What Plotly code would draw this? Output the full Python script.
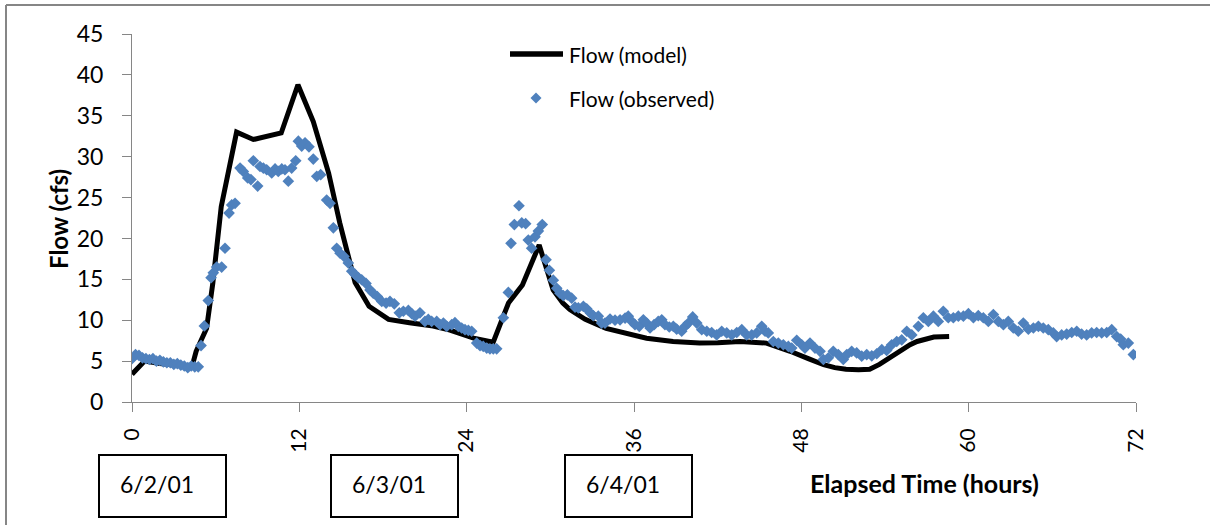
import plotly.graph_objects as go

# Simulated flow (model), hours since start
model_hours = [0, 0.9, 2.0, 3.0, 4.3, 4.6, 5.35, 5.8, 6.4, 7.5, 8.7, 10.7, 11.9, 13.0,
               14.1, 14.9, 15.4, 16.0, 17.0, 18.4, 19.9, 21.6, 22.8, 24.5, 25.9, 27.0,
               28.0, 29.2, 30.2, 30.9, 31.4, 32.5, 34.0, 35.5, 36.9, 38.8, 40.7, 42.0,
               43.6, 45.5, 46.3, 47.2, 48.5, 49.6, 50.4, 51.2, 52.1, 52.9, 53.6, 54.3,
               55.1, 55.8, 56.3, 57.0, 57.5, 58.6]
model_flow = [3.4, 5.0, 4.7, 4.5, 4.3, 6.2, 9.0, 14.6, 23.9, 33.0, 32.1, 32.9, 38.8, 34.3,
              28.0, 21.9, 18.6, 14.6, 11.7, 10.1, 9.7, 9.3, 8.8, 7.8, 7.3, 12.1,
              14.3, 19.2, 13.7, 12.1, 11.3, 10.1, 9.0, 8.3, 7.8, 7.4, 7.2, 7.25,
              7.4, 7.2, 6.8, 6.2, 5.3, 4.56, 4.2, 4.0, 3.95, 4.0, 4.6, 5.4,
              6.2, 7.0, 7.4, 7.8, 7.95, 8.0]

# Gauged flow (observed)
obs_hours = [0, 0.25, 0.5, 0.75, 1.0, 1.25, 1.5, 1.75, 2.0, 2.25, 2.5, 2.75, 3.0, 3.25,
             3.5, 3.75, 4.0, 4.25, 4.5, 4.75,
             4.95, 5.19, 5.47, 5.67, 5.83, 6.07, 6.43, 6.67, 6.96, 7.15, 7.39, 7.75,
             7.98, 8.30, 8.53, 8.70, 9.01, 9.18, 9.42, 9.66, 10.02, 10.26, 10.49, 10.74,
             10.97, 11.21, 11.45, 11.74, 11.93, 12.17, 12.41, 12.69, 13.0, 13.25, 13.53,
             13.96, 14.2, 14.44, 14.68, 14.92, 15.2, 15.51, 15.76, 15.99, 16.23, 16.47,
             16.78, 17.07, 17.3, 17.59, 17.91, 18.22, 18.5, 18.81, 19.17, 19.46, 19.82,
             20.06, 20.3, 20.65, 21.01, 21.25, 21.49, 21.85, 22.09, 22.33, 22.57, 22.93,
             23.16, 23.4, 23.64, 23.88, 24.12, 24.36, 24.72, 24.96, 25.19, 25.44, 25.67,
             25.91, 26.15, 26.63, 26.99, 27.18, 27.42, 27.75, 27.95, 28.23, 28.42, 28.66,
             28.9, 29.14, 29.42, 29.69, 29.93, 30.21, 30.46, 30.69, 30.93, 31.22, 31.53,
             31.77, 32.01, 32.37, 32.61, 32.85, 33.08, 33.44, 33.68, 33.92, 34.28, 34.64,
             35.0, 35.36, 35.59, 35.84, 36.07, 36.38, 36.67, 36.91, 37.15, 37.44, 37.74,
             37.99, 38.22, 38.53, 38.82, 39.06, 39.42, 39.66, 39.9, 40.21, 40.5, 40.86,
             41.22, 41.57, 41.93, 42.29, 42.65, 43.01, 43.37, 43.73, 44.08, 44.44, 44.8,
             45.16, 45.4, 45.63, 45.99, 46.35, 46.71, 47.07, 47.31, 47.67, 48.03, 48.26,
             48.62, 48.98, 49.34, 49.58, 49.94, 50.29, 50.65, 51.01, 51.26, 51.61, 51.97,
             52.33, 52.69, 53.05, 53.41, 53.77, 54.12, 54.48, 54.84, 55.2, 55.56, 55.92,
             56.39, 56.75, 57.11, 57.47, 57.82, 58.18, 58.54, 58.9, 59.26, 59.62, 59.98,
             60.34, 60.69, 61.05, 61.41, 61.77, 62.13, 62.49, 62.84, 63.2, 63.56, 63.92,
             64.28, 64.64, 65.0, 65.35, 65.71, 66.07, 66.31, 66.67, 67.03, 67.39, 67.75,
             68.1, 68.46, 68.82, 69.18, 69.54, 69.9, 70.26, 70.62, 70.9, 71.09, 71.45,
             71.81]
obs_flow = [5.3, 5.8, 5.7, 5.4, 5.3, 5.2, 5.3, 5.0, 5.1, 4.9, 4.8, 4.8, 4.6, 4.7,
            4.5, 4.4, 4.2, 4.4, 4.3, 4.3,
            6.9, 9.3, 12.4, 15.2, 15.8, 16.5, 16.5, 18.8, 23.1, 24.1, 24.3, 28.6,
            28.2, 27.4, 27.2, 29.5, 26.4, 28.8, 28.6, 28.4, 28.0, 28.5, 28.2, 28.5,
            28.4, 27.0, 28.6, 29.5, 31.9, 31.3, 31.7, 31.2, 29.7, 27.6, 27.8,
            24.7, 24.3, 21.3, 18.8, 18.2, 17.8, 17.0, 16.0, 15.6, 15.2, 14.95,
            14.5, 13.7, 13.3, 12.9, 12.3, 12.1, 12.3, 12.0, 10.9, 11.1, 11.2,
            10.8, 10.5, 10.9, 9.85, 10.1, 9.85, 9.85, 9.45, 9.65, 9.25, 9.45,
            9.7, 9.25, 9.05, 8.85, 8.75, 8.65, 7.2, 6.9, 6.8, 6.6, 6.5,
            6.5, 6.5, 10.3, 13.4, 19.4, 21.7, 24.0, 21.9, 21.8, 19.8, 18.8,
            20.2, 20.9, 21.7, 17.4, 16.1, 14.9, 13.9, 13.3, 13.0, 13.1, 12.7,
            11.6, 11.5, 11.7, 11.4, 10.9, 10.55, 10.5, 9.65, 9.65, 10.15, 10.0,
            10.05, 10.25, 10.5, 9.85, 9.45, 9.25, 10.05, 9.65, 9.05, 9.45, 9.85,
            10.05, 9.45, 9.17, 9.25, 8.9, 8.65, 9.25, 9.65, 10.4, 9.65, 8.85,
            8.65, 8.5, 8.2, 8.65, 8.45, 8.2, 8.5, 8.85, 8.2, 8.2, 8.45,
            9.25, 8.65, 8.45, 7.4, 7.2, 7.0, 6.8, 6.6, 7.55, 7.0, 6.6,
            7.2, 6.6, 6.2, 5.2, 5.4, 6.2, 5.8, 5.2, 5.8, 6.2, 6.0,
            5.6, 5.8, 5.65, 5.9, 6.4, 6.3, 7.0, 7.4, 7.6, 8.65, 8.2,
            9.25, 10.3, 9.85, 10.5, 9.85, 11.1, 10.3, 10.3, 10.5, 10.5, 10.8,
            10.3, 10.55, 10.3, 9.85, 10.7, 9.85, 9.45, 9.85, 9.05, 8.65, 9.65,
            8.9, 9.05, 9.25, 9.05, 8.85, 8.45, 8.0, 8.2, 8.3, 8.5, 8.65,
            8.3, 8.2, 8.45, 8.5, 8.45, 8.5, 8.85, 8.0, 7.7, 7.0, 7.2,
            5.8]

x_ticks = [0, 12, 24, 36, 48, 60, 72]
y_ticks = [0, 5, 10, 15, 20, 25, 30, 35, 40, 45]
date_labels = ["6/2/01", "6/3/01", "6/4/01"]

W, H = 1210, 525
L, R, T, B = 132, 74, 34, 123
PW, PH = W - L - R, H - T - B

FONT = "Lato, Calibri, Arial, sans-serif"
GREY = "#868686"
BLUE = "#4F81BD"


def px(x):
    return (x - L) / PW


def py(y):
    return (T + PH - y) / PH


fig = go.Figure()

fig.add_trace(go.Scatter(
    x=model_hours, y=model_flow, mode="lines", name="Flow (model)",
    line=dict(color="black", width=5), showlegend=False,
))
fig.add_trace(go.Scatter(
    x=obs_hours, y=obs_flow, mode="markers", name="Flow (observed)",
    marker=dict(symbol="diamond", size=9, color=BLUE, line=dict(width=0)),
    showlegend=False,
))

shapes = []
annotations = []

# outer chart frame (top and left edges)
shapes.append(dict(type="line", xref="paper", yref="paper",
                   x0=px(6), x1=px(W + 5), y0=py(5), y1=py(5),
                   line=dict(color=GREY, width=2)))
shapes.append(dict(type="line", xref="paper", yref="paper",
                   x0=px(6), x1=px(6), y0=py(5), y1=py(H + 5),
                   line=dict(color=GREY, width=2)))

# legend
shapes.append(dict(type="line", xref="paper", yref="paper",
                   x0=px(510), x1=px(563), y0=py(54), y1=py(54),
                   line=dict(color="black", width=5.5)))
cx, cy, r = 536, 98, 5.5
shapes.append(dict(type="path", xref="paper", yref="paper",
                   path=f"M {px(cx - r)} {py(cy)} L {px(cx)} {py(cy - r)} "
                        f"L {px(cx + r)} {py(cy)} L {px(cx)} {py(cy + r)} Z",
                   fillcolor=BLUE, line=dict(width=0)))
for text, yy in [("Flow (model)", 54), ("Flow (observed)", 98)]:
    annotations.append(dict(xref="paper", yref="paper", x=px(567), y=py(yy),
                            text=text, showarrow=False, xanchor="left",
                            yanchor="middle",
                            font=dict(family=FONT, size=21, color="black")))

# date boxes below the time axis
for label, x0 in zip(date_labels, [99, 331, 565]):
    shapes.append(dict(type="rect", xref="paper", yref="paper",
                       x0=px(x0), x1=px(x0 + 127), y0=py(455), y1=py(517),
                       line=dict(color="black", width=2), fillcolor="white"))
    annotations.append(dict(xref="paper", yref="paper", x=px(x0 + 19), y=py(484),
                            text=label, showarrow=False, xanchor="left",
                            yanchor="middle",
                            font=dict(family=FONT, size=23, color="black")))

# axis titles
annotations.append(dict(xref="paper", yref="paper", x=px(808), y=py(483),
                        text="<b>Elapsed Time (hours)</b>", showarrow=False,
                        xanchor="left", yanchor="middle",
                        font=dict(family=FONT, size=25, color="black")))
annotations.append(dict(xref="paper", yref="paper", x=px(58), y=py(219),
                        text="<b>Flow (cfs)</b>", showarrow=False, textangle=-90,
                        xanchor="center", yanchor="middle",
                        font=dict(family=FONT, size=24, color="black")))

fig.update_layout(
    width=W, height=H,
    margin=dict(l=L, r=R, t=T, b=B, pad=0),
    paper_bgcolor="white", plot_bgcolor="white",
    shapes=shapes, annotations=annotations,
    showlegend=False,
    font=dict(family=FONT, color="black"),
)
fig.update_xaxes(
    range=[0, 72], tickmode="array", tickvals=x_ticks,
    ticktext=[str(v) for v in x_ticks], tickangle=-90,
    showgrid=False, zeroline=False, showline=True, linecolor=GREY, linewidth=1,
    ticks="outside", ticklen=9, tickcolor=GREY, tickwidth=1,
    tickfont=dict(family=FONT, size=21, color="black"),
    ticklabelstandoff=8,
)
fig.update_yaxes(
    range=[0, 45], tickmode="array", tickvals=y_ticks,
    showgrid=False, zeroline=False, showline=True, linecolor=GREY, linewidth=1,
    ticks="outside", ticklen=9, tickcolor=GREY, tickwidth=1,
    tickfont=dict(family=FONT, size=23, color="black"),
    ticklabelstandoff=14,
)

fig.write_html("out.html")
